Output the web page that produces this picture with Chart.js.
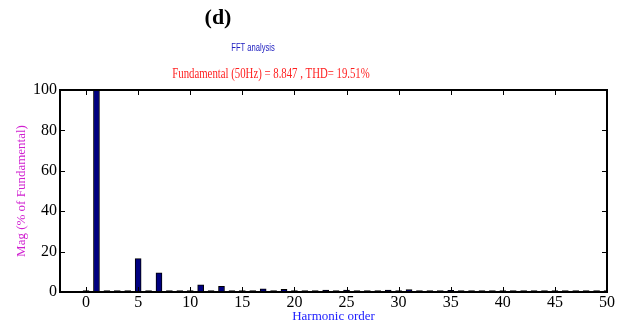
<!DOCTYPE html>
<html>
<head>
<meta charset="utf-8">
<script src="https://cdn.jsdelivr.net/npm/chart.js@4.4.1/dist/chart.umd.min.js"></script>
<style>
  html, body { margin: 0; padding: 0; background: #fff; }
  #wrap { width: 640px; height: 324px; position: relative; }
</style>
</head>
<body>
<div id="wrap"><canvas id="fft"></canvas></div>
<script>
// harmonic order 0..50
var harmonics = [];
for (var i = 0; i <= 50; i++) harmonics.push(i);

// magnitude in % of fundamental
var magnitudes = [
  0.7, 100, 0.7, 0.7, 0.7, 16.5, 0.7, 9.5, 0.7, 0.7,
  0.7, 3.5, 0.7, 2.8, 0.7, 0.7, 0.7, 1.6, 0.7, 1.3,
  0.7, 0.7, 0.7, 0.9, 0.7, 0.9, 0.7, 0.7, 0.7, 0.9,
  0.7, 1.2, 0.7, 0.7, 0.7, 0.8, 0.7, 0.7, 0.7, 0.7,
  0.7, 0.7, 0.7, 0.7, 0.7, 0.7, 0.7, 0.7, 0.7, 0.7, 0.7
];

var xTicks = [0, 5, 10, 15, 20, 25, 30, 35, 40, 45, 50];
var yTicks = [0, 20, 40, 60, 80, 100];

var points = harmonics.map(function(h, k) { return { x: h, y: magnitudes[k] }; });

var serif = "'Liberation Serif', 'Times New Roman', serif";

// condensed text, like the narrow fonts of the original figure
function narrowText(ctx, txt, x, y, squeeze) {
  ctx.save();
  ctx.translate(x, y);
  ctx.scale(squeeze, 1);
  ctx.fillText(txt, 0, 0);
  ctx.restore();
}

// frame, inward tick marks and the title texts
var matlabFrame = {
  id: 'matlabFrame',
  afterDraw: function(chart) {
    var ctx = chart.ctx, a = chart.chartArea;
    var xs = chart.scales.x, ys = chart.scales.y;
    ctx.save();
    ctx.strokeStyle = '#000';
    ctx.lineWidth = 1;
    ctx.beginPath();
    xTicks.forEach(function(v) {
      var px = Math.round(xs.getPixelForValue(v)) + 0.5;
      ctx.moveTo(px, a.bottom); ctx.lineTo(px, a.bottom - 5);
      ctx.moveTo(px, a.top); ctx.lineTo(px, a.top + 5);
    });
    yTicks.forEach(function(v) {
      var py = Math.round(ys.getPixelForValue(v)) + 0.5;
      ctx.moveTo(a.left, py); ctx.lineTo(a.left + 5, py);
      ctx.moveTo(a.right, py); ctx.lineTo(a.right - 5, py);
    });
    ctx.stroke();
    ctx.lineWidth = 2;
    ctx.strokeRect(a.left, a.top, a.right - a.left, a.bottom - a.top);

    ctx.textAlign = 'center';
    ctx.textBaseline = 'middle';
    ctx.fillStyle = '#000';
    ctx.font = 'bold 22px ' + serif;
    ctx.fillText('(d)', 218, 18);
    ctx.fillStyle = '#2020c0';
    ctx.font = "10px 'Liberation Sans', Arial, sans-serif";
    narrowText(ctx, 'FFT analysis', 253, 48, 0.76);
    ctx.fillStyle = '#ff2020';
    ctx.font = '14px ' + serif;
    narrowText(ctx, 'Fundamental (50Hz) = 8.847 , THD= 19.51%', 271, 74, 0.77);
    ctx.restore();
  }
};

new Chart(document.getElementById('fft'), {
  type: 'bar',
  data: {
    datasets: [{
      data: points,
      backgroundColor: '#000080',
      borderColor: '#000',
      borderWidth: 1,
      barThickness: 6
    }]
  },
  options: {
    responsive: true,
    maintainAspectRatio: false,
    animation: false,
    layout: { padding: { top: 90, right: 33, left: 0, bottom: 0 } },
    plugins: { legend: { display: false }, tooltip: { enabled: false } },
    scales: {
      x: {
        type: 'linear',
        min: -2.5,
        max: 50,
        offset: false,
        grid: { display: false, drawTicks: false },
        border: { display: false },
        afterFit: function(s) { s.height = 32; },
        afterBuildTicks: function(s) { s.ticks = xTicks.map(function(v) { return { value: v }; }); },
        ticks: { color: '#000', font: { family: serif, size: 16 }, padding: 1, maxRotation: 0, autoSkip: false },
        title: { display: true, text: 'Harmonic order', color: '#2020ff', font: { family: serif, size: 13 }, padding: { top: 0, bottom: 0 } }
      },
      y: {
        min: 0,
        max: 100,
        grid: { display: false, drawTicks: false },
        border: { display: false },
        afterFit: function(s) { s.width = 60; },
        afterBuildTicks: function(s) { s.ticks = yTicks.map(function(v) { return { value: v }; }); },
        ticks: { color: '#000', font: { family: serif, size: 16 }, padding: 3 },
        title: { display: true, text: 'Mag (% of Fundamental)', color: '#d020d0', font: { family: serif, size: 13 }, padding: { top: 14, bottom: 0 } }
      }
    }
  },
  plugins: [matlabFrame]
});
</script>
</body>
</html>
